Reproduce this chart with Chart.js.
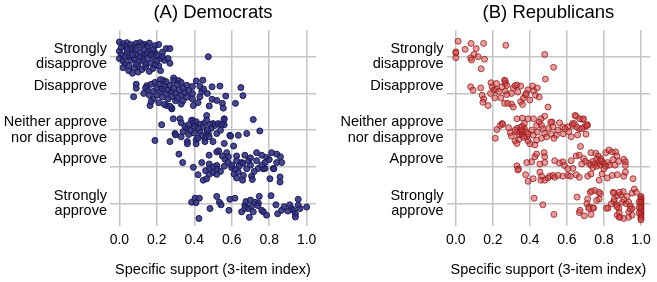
<!DOCTYPE html>
<html>
<head>
<meta charset="utf-8">
<script src="https://cdn.jsdelivr.net/npm/chart.js@4.4.1/dist/chart.umd.min.js"></script>
<style>
  html, body { margin: 0; padding: 0; background: #fff; }
  .panel { position: absolute; top: 0; height: 282px; }
  #pA { left: 0; width: 328px; }
  #pB { left: 328px; width: 329px; }
</style>
</head>
<body>
<div class="panel" id="pA"><canvas id="demChart"></canvas></div>
<div class="panel" id="pB"><canvas id="repChart"></canvas></div>
<script>
// Response categories, top to bottom (y = 1..5). Single-line labels get an
// empty second line so they sit just above their grid line, as in the print.
const categoryLabels = [
    ["Strongly", "disapprove"],
    ["Disapprove", ""],
    ["Neither approve", "nor disapprove"],
    ["Approve", ""],
    ["Strongly", "approve"],
];
const categoryPositions = [1, 2, 3, 4, 5];
const xTicks = [0, 0.2, 0.4, 0.6, 0.8, 1.0];
const xAxisTitle = "Specific support (3-item index)";

// Democrats: [support index, category position + vertical jitter]
const demStronglyDisapprove = [
    [0.00,0.60],[0.02,0.65],[0.04,0.62],[0.06,0.67],[0.09,0.64],[0.11,0.62],[0.13,0.66],[0.15,0.70],
    [0.16,0.63],[0.19,0.70],[0.21,0.67],[0.25,0.78],[0.27,0.78],[0.12,0.70],[0.03,0.72],[0.08,0.73],
    [0.00,0.85],[0.01,0.95],[0.00,1.05],[0.02,1.12],[0.04,0.90],[0.05,1.00],[0.06,1.10],[0.07,0.82],
    [0.08,1.05],[0.09,0.95],[0.10,1.15],[0.11,0.88],[0.12,1.02],[0.13,1.12],[0.14,0.92],[0.15,1.05],
    [0.16,0.85],[0.17,1.18],[0.18,1.00],[0.19,0.90],[0.20,1.12],[0.22,1.05],[0.23,0.88],[0.24,1.10],
    [0.26,1.05],[0.27,1.18],[0.21,1.25],[0.03,1.20],[0.06,0.78],[0.10,1.25],[0.02,1.30],[0.05,1.38],
    [0.08,1.30],[0.10,1.42],[0.12,1.35],[0.14,1.28],[0.16,1.40],[0.18,1.32],[0.22,1.38],[0.07,1.45],
    [0.01,0.75],[0.04,0.80],[0.07,0.95],[0.09,0.80],[0.11,1.00],[0.13,0.80],[0.15,0.90],[0.18,0.80],
    [0.20,0.95],[0.23,1.00],[0.03,1.00],[0.05,1.25],[0.09,1.20],[0.14,1.20],[0.17,0.95],[0.19,1.22],
    [0.475,1.00],
];
const demDisapprove = [
    [0.411,1.66],[0.446,1.64],[0.495,1.82],[0.537,1.80],[0.649,1.84],[0.66,2.06],[0.495,2.16],[0.52,2.19],
    [0.568,2.07],[0.62,2.27],[0.55,2.27],[0.48,2.34],[0.555,2.40],[0.164,2.33],[0.076,2.09],[0.09,1.75],
    [0.09,1.86],[0.146,1.79],[0.39,1.81],[0.43,1.81],[0.39,2.00],[0.39,2.15],[0.43,2.09],[0.33,2.05],
    [0.33,2.29],[0.28,2.40],[0.395,2.33],[0.236,1.65],[0.29,1.58],[0.316,1.65],[0.253,2.33],[0.28,2.42],
    [0.15,1.90],[0.16,2.05],[0.17,1.75],[0.18,1.95],[0.18,2.15],[0.19,1.70],[0.20,1.85],[0.20,2.05],
    [0.21,2.25],[0.22,1.62],[0.22,1.95],[0.23,2.10],[0.24,1.80],[0.24,2.30],[0.25,2.00],[0.25,1.68],
    [0.26,1.90],[0.26,2.15],[0.27,1.78],[0.27,2.35],[0.28,1.95],[0.28,2.08],[0.29,1.65],[0.29,1.85],
    [0.30,2.20],[0.30,2.00],[0.31,1.75],[0.31,2.12],[0.32,1.90],[0.33,1.70],[0.34,1.85],[0.34,2.20],
    [0.35,1.98],[0.36,1.78],[0.36,2.10],[0.37,1.92],[0.21,1.75],[0.23,1.88],[0.17,2.22],[0.13,2.00],
    [0.14,1.85],[0.44,1.95],[0.42,2.25],[0.47,2.00],[0.45,1.88],
];
const demNeither = [
    [0.288,2.69],[0.324,2.69],[0.39,2.73],[0.41,2.77],[0.466,2.60],[0.466,2.73],[0.56,2.69],[0.715,2.71],
    [0.226,2.85],[0.45,2.82],[0.50,2.82],[0.54,2.84],[0.56,2.85],[0.36,2.95],[0.386,2.73],[0.395,2.82],
    [0.43,2.84],[0.448,2.91],[0.484,2.84],[0.51,2.87],[0.528,2.82],[0.546,2.84],[0.559,2.71],[0.43,3.04],
    [0.466,3.09],[0.52,3.09],[0.34,3.04],[0.297,3.09],[0.75,3.02],[0.68,3.09],[0.635,3.14],[0.59,3.14],
    [0.30,3.13],[0.19,3.28],[0.27,3.31],[0.363,3.31],[0.363,3.37],[0.41,3.27],[0.41,3.37],[0.457,3.22],
    [0.457,3.31],[0.475,3.09],[0.48,3.18],[0.50,3.31],[0.56,3.36],[0.594,3.16],[0.61,3.43],[0.37,3.12],
    [0.40,3.08],[0.44,3.15],[0.35,2.90],[0.38,3.00],[0.42,2.95],[0.49,2.95],[0.33,2.80],[0.37,2.85],
    [0.40,2.90],[0.47,3.00],[0.54,3.00],[0.42,3.22],[0.33,3.18],
];
const demApprove = [
    [0.318,3.65],[0.338,3.88],[0.395,4.01],[0.479,3.68],[0.52,3.59],[0.53,3.56],[0.44,3.88],[0.48,3.92],
    [0.52,3.96],[0.573,3.61],[0.582,3.72],[0.564,3.79],[0.626,3.70],[0.67,3.68],[0.733,3.61],[0.76,3.68],
    [0.786,3.74],[0.813,3.61],[0.84,3.65],[0.86,3.72],[0.69,3.83],[0.733,3.83],[0.778,3.88],[0.84,3.88],
    [0.867,3.88],[0.58,3.88],[0.626,3.83],[0.653,3.88],[0.742,4.04],[0.778,4.04],[0.822,4.04],[0.42,4.21],
    [0.448,4.36],[0.466,4.32],[0.48,4.20],[0.50,4.15],[0.52,4.20],[0.48,4.05],[0.52,4.05],[0.612,4.19],
    [0.635,4.14],[0.662,4.23],[0.626,4.30],[0.658,4.36],[0.706,4.25],[0.71,4.34],[0.769,4.05],[0.825,4.05],
    [0.804,4.32],[0.858,4.27],[0.858,4.41],[0.46,4.10],[0.50,4.00],[0.54,4.12],[0.56,3.98],[0.60,4.02],
    [0.64,3.98],[0.68,4.05],[0.70,3.95],[0.72,4.12],[0.60,3.95],[0.62,4.06],[0.76,3.95],[0.80,3.80],
    [0.70,3.75],[0.55,3.70],[0.66,3.90],
];
const demStronglyApprove = [
    [0.386,4.96],[0.404,4.85],[0.427,4.85],[0.409,4.97],[0.425,5.40],[0.484,5.13],[0.52,4.80],[0.534,4.96],
    [0.543,5.03],[0.585,5.18],[0.59,4.88],[0.617,4.85],[0.653,5.22],[0.67,5.04],[0.676,4.94],[0.67,5.13],
    [0.69,5.13],[0.694,5.37],[0.706,5.07],[0.715,5.22],[0.724,4.96],[0.742,4.98],[0.747,4.80],[0.76,5.18],
    [0.769,5.22],[0.786,5.31],[0.81,4.78],[0.836,5.03],[0.845,5.27],[0.866,5.18],[0.91,5.03],[0.92,5.13],
    [0.93,5.18],[0.94,5.27],[0.94,5.36],[0.955,4.88],[0.955,5.04],[0.965,5.13],[1.00,5.09],[0.70,4.90],
    [0.74,5.05],[0.88,5.08],[0.90,5.20],
];

// Republicans
const repStronglyDisapprove = [
    [0.012,0.58],[0.00,0.87],[0.00,0.90],[0.00,1.03],[0.05,0.80],[0.082,0.64],[0.11,0.78],[0.15,0.64],
    [0.098,0.94],[0.08,1.03],[0.085,1.09],[0.12,1.00],[0.155,1.07],[0.137,1.33],[0.27,0.69],[0.48,0.94],
    [0.528,1.29],
];
const repDisapprove = [
    [0.263,1.64],[0.484,1.61],[0.08,1.82],[0.093,1.91],[0.134,1.85],[0.142,2.05],[0.151,2.15],[0.146,2.24],
    [0.174,2.33],[0.19,1.71],[0.196,1.82],[0.205,1.91],[0.217,1.89],[0.187,2.00],[0.21,2.12],[0.22,1.73],
    [0.243,2.12],[0.267,1.67],[0.267,1.73],[0.267,1.94],[0.263,2.27],[0.30,2.29],[0.30,2.00],[0.31,1.85],
    [0.32,1.79],[0.33,1.77],[0.35,1.80],[0.335,1.96],[0.35,2.22],[0.365,2.13],[0.377,2.04],[0.39,1.90],
    [0.42,1.92],[0.415,1.80],[0.44,1.85],[0.43,2.05],[0.38,2.00],[0.275,2.03],[0.28,2.27],[0.31,2.37],
    [0.45,2.10],[0.40,2.18],[0.36,2.30],[0.498,2.37],[0.23,1.95],[0.25,1.82],[0.275,1.78],
];
const repNeither = [
    [0.25,2.82],[0.33,2.69],[0.36,2.67],[0.39,2.69],[0.42,2.69],[0.48,2.62],[0.46,2.69],[0.45,2.78],
    [0.52,2.78],[0.63,2.82],[0.65,2.62],[0.67,2.69],[0.685,2.71],[0.71,2.85],[0.213,3.22],[0.222,2.98],
    [0.24,2.87],[0.253,2.84],[0.285,2.93],[0.294,3.07],[0.30,3.16],[0.32,3.29],[0.33,3.36],[0.34,3.25],
    [0.356,3.09],[0.36,2.89],[0.37,2.82],[0.347,3.00],[0.383,3.18],[0.39,3.29],[0.40,3.37],[0.427,3.40],
    [0.436,3.27],[0.418,3.13],[0.41,3.00],[0.436,2.87],[0.463,2.87],[0.47,2.96],[0.48,3.09],[0.463,3.22],
    [0.49,3.18],[0.516,3.11],[0.525,2.91],[0.512,2.78],[0.543,3.13],[0.578,2.91],[0.605,2.91],[0.623,3.18],
    [0.632,2.87],[0.658,3.13],[0.667,2.96],[0.673,3.44],[0.694,2.91],[0.703,3.11],[0.71,2.87],[0.644,2.60],
    [0.69,2.69],[0.706,2.87],[0.653,2.91],[0.68,2.96],[0.64,2.82],[0.59,2.96],[0.61,3.04],[0.33,2.95],
    [0.35,3.05],[0.36,3.15],[0.37,2.95],[0.34,3.12],[0.36,3.00],[0.38,3.05],[0.35,2.92],[0.33,3.05],
    [0.37,3.20],[0.39,3.10],[0.32,3.00],[0.50,2.95],[0.55,3.00],[0.56,2.80],[0.44,3.05],[0.58,3.10],
    [0.53,3.22],
];
const repApprove = [
    [0.33,3.97],[0.338,4.05],[0.383,3.88],[0.41,3.86],[0.427,3.72],[0.477,3.61],[0.48,3.72],[0.436,3.65],
    [0.454,3.92],[0.48,3.88],[0.534,3.83],[0.56,3.89],[0.578,3.86],[0.587,3.96],[0.605,4.05],[0.623,3.83],
    [0.632,4.04],[0.65,3.70],[0.667,3.68],[0.69,3.77],[0.73,3.61],[0.756,3.63],[0.769,3.70],[0.783,3.77],
    [0.81,3.61],[0.827,3.54],[0.845,3.59],[0.863,3.59],[0.87,3.70],[0.907,3.79],[0.916,3.86],[0.916,3.96],
    [0.72,3.90],[0.73,3.95],[0.74,3.85],[0.75,3.92],[0.76,3.98],[0.77,3.88],[0.78,3.95],[0.79,3.85],
    [0.80,3.92],[0.81,3.98],[0.82,3.88],[0.83,3.95],[0.76,3.80],[0.78,3.82],[0.74,4.02],[0.80,4.05],
    [0.85,3.80],[0.88,3.85],[0.86,3.95],[0.70,3.85],[0.68,3.92],[0.335,4.08],[0.377,4.21],[0.39,4.39],
    [0.418,4.32],[0.454,4.14],[0.463,4.25],[0.46,4.36],[0.48,4.36],[0.498,4.30],[0.507,4.25],[0.525,4.23],
    [0.534,4.28],[0.552,4.23],[0.578,4.25],[0.605,4.23],[0.619,4.25],[0.65,4.21],[0.667,4.28],[0.712,4.25],
    [0.73,4.19],[0.774,4.36],[0.79,4.19],[0.818,4.30],[0.845,4.23],[0.872,4.21],[0.907,4.25],[0.916,4.14],
    [0.957,4.32],
];
const repStronglyApprove = [
    [0.423,4.85],[0.47,5.03],[0.53,5.29],[0.655,4.82],[0.667,5.24],[0.712,4.87],[0.708,5.00],[0.72,5.09],
    [0.726,4.69],[0.75,4.64],[0.78,4.73],[0.774,4.87],[0.76,4.91],[0.73,5.29],[0.744,5.12],[0.822,5.12],
    [0.854,4.71],[0.872,4.78],[0.89,4.76],[0.904,4.67],[0.925,4.80],[0.952,4.71],[0.964,4.60],[0.975,4.69],
    [0.854,4.94],[0.868,5.03],[0.88,5.12],[0.90,4.96],[0.907,4.89],[0.92,5.00],[0.934,4.96],[0.943,5.06],
    [0.952,5.13],[0.872,5.31],[0.886,5.36],[0.907,5.40],[0.934,5.22],[0.952,5.31],[0.943,5.15],[0.85,4.69],
    [0.883,4.69],[0.733,4.66],[0.773,4.69],[0.671,5.18],[0.694,5.33],[0.718,5.13],[0.741,5.11],[0.813,5.12],
    [0.84,5.00],[0.856,4.88],[0.87,5.08],[0.883,5.24],[0.883,5.37],[0.933,5.37],
    [1,4.80],[1,4.84],[1,4.88],[1,4.92],[1,4.96],[1,5.00],[1,5.04],[1,5.08],[1,5.12],[1,5.16],
    [1,5.20],[1,5.24],[1,5.28],[1,5.32],[1,5.36],[1,5.40],[1,5.44],[0.99,4.95],[0.99,5.10],[0.99,5.25],
];

const FONT = "'Liberation Sans', Arial, Helvetica, sans-serif";
const GRID = "#c4c4c4";

function toPoints(...groups) {
    return [].concat(...groups).map(p => ({ x: p[0], y: p[1] }));
}

function makePanel(canvasId, title, points, fill, edge, axisWidth, padRight) {
    return new Chart(document.getElementById(canvasId), {
        type: "scatter",
        data: {
            datasets: [{
                data: points,
                backgroundColor: fill,
                borderColor: edge,
                borderWidth: 1,
                pointRadius: 3,
                pointHoverRadius: 3,
            }],
        },
        options: {
            responsive: true,
            maintainAspectRatio: false,
            animation: false,
            events: [],
            layout: { padding: { left: 0, right: padRight, top: 0, bottom: 0 } },
            plugins: {
                legend: { display: false },
                tooltip: { enabled: false },
                title: {
                    display: true,
                    text: title,
                    fullSize: false,
                    color: "#000",
                    font: { family: FONT, size: 18.5, weight: "normal" },
                    padding: { top: 2, bottom: 6 },
                },
            },
            scales: {
                x: {
                    type: "linear",
                    min: -0.05,
                    max: 1.05,
                    afterBuildTicks: s => { s.ticks = xTicks.map(v => ({ value: v })); },
                    grid: { color: GRID, lineWidth: 1.5, drawTicks: false },
                    border: { display: false },
                    ticks: {
                        color: "#000",
                        padding: 6,
                        maxRotation: 0,
                        font: { family: FONT, size: 14 },
                        callback: v => v.toFixed(1),
                    },
                    title: {
                        display: true,
                        text: xAxisTitle,
                        color: "#000",
                        font: { family: FONT, size: 14.5 },
                        padding: { top: 6.5, bottom: 3.5 },
                    },
                },
                y: {
                    type: "linear",
                    reverse: true,
                    min: 0.28,
                    max: 5.6,
                    afterBuildTicks: s => { s.ticks = categoryPositions.map(v => ({ value: v })); },
                    afterFit: s => { s.width = axisWidth; },
                    grid: { color: GRID, lineWidth: 1.5, drawTicks: false },
                    border: { display: false },
                    ticks: {
                        color: "#000",
                        padding: 3,
                        font: { family: FONT, size: 14.5, lineHeight: 1.07 },
                        callback: v => categoryLabels[categoryPositions.indexOf(v)],
                    },
                },
            },
        },
    });
}

makePanel("demChart", "(A) Democrats",
    toPoints(demStronglyDisapprove, demDisapprove, demNeither, demApprove, demStronglyApprove),
    "rgba(48, 48, 128, 0.88)", "#1a1a55", 110, 12);

makePanel("repChart", "(B) Republicans",
    toPoints(repStronglyDisapprove, repDisapprove, repNeither, repApprove, repStronglyApprove),
    "rgba(206, 64, 64, 0.5)", "rgba(150, 28, 28, 0.8)", 118.6, 4);
</script>
</body>
</html>
